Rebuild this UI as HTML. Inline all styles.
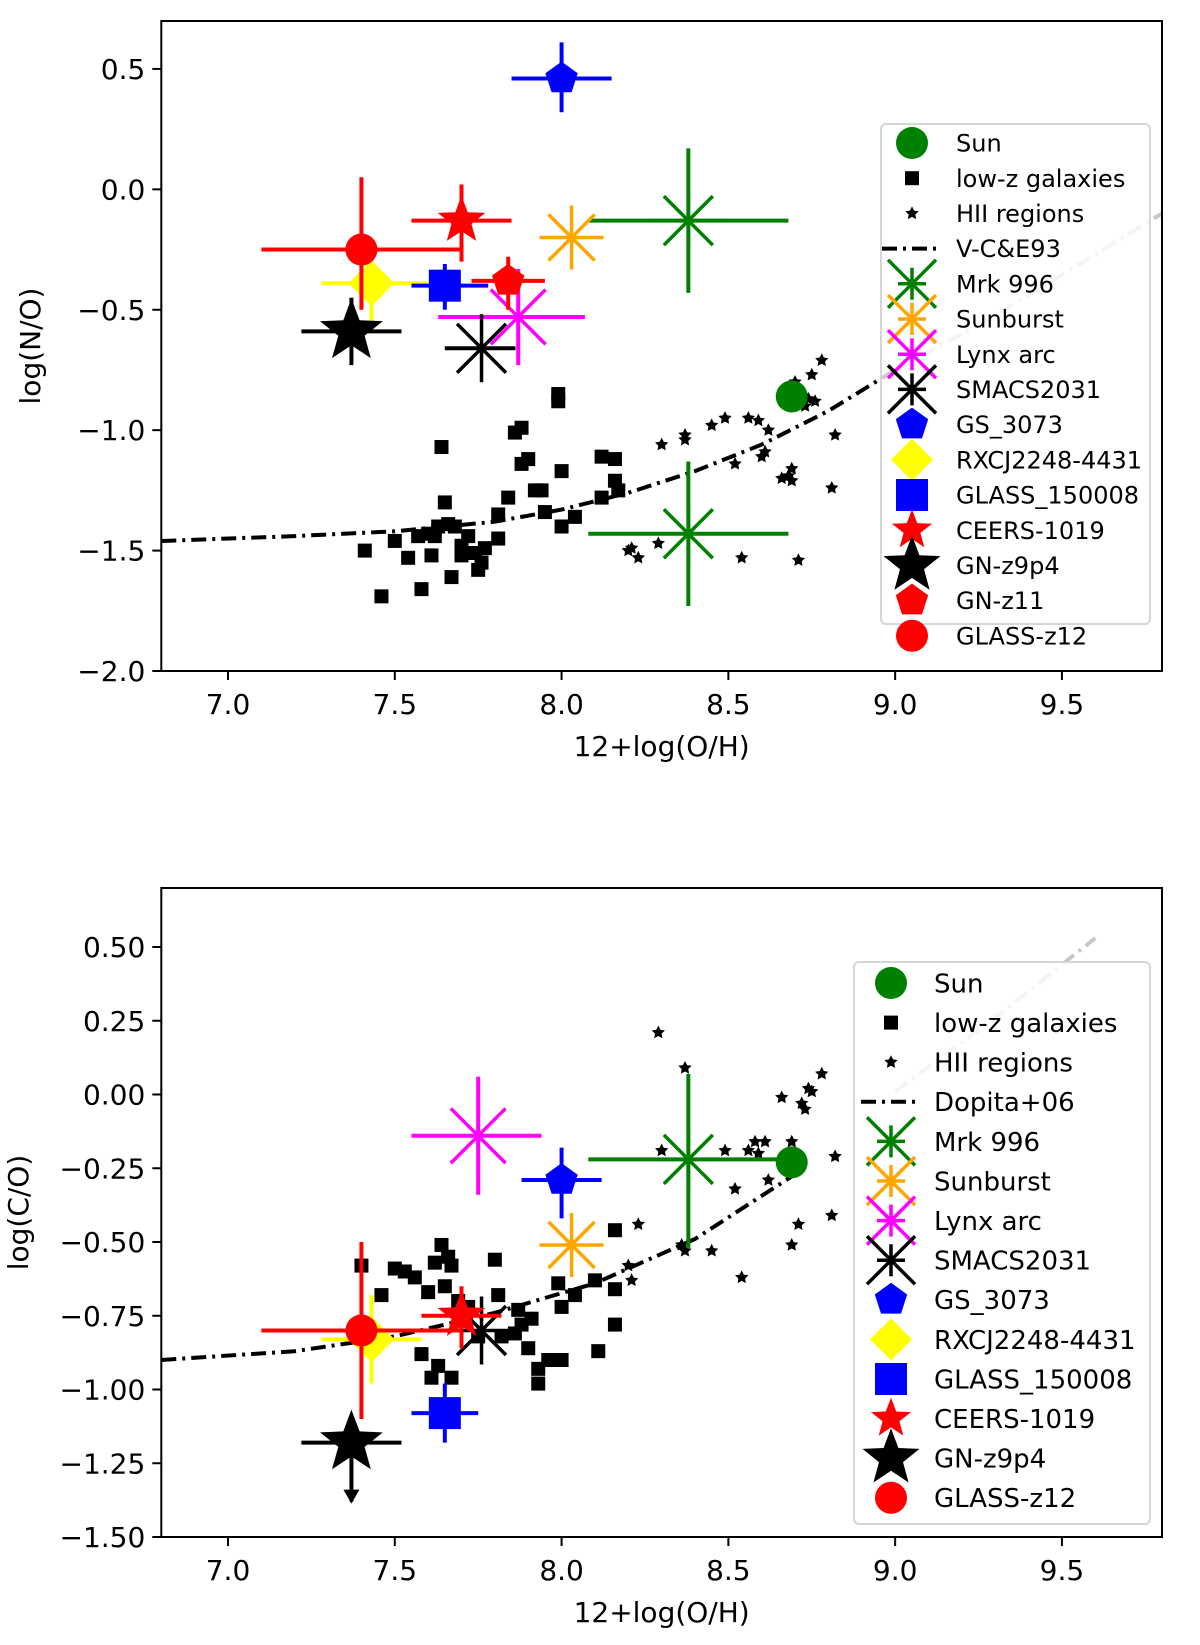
<!DOCTYPE html>
<html><head><meta charset="utf-8"><style>
html,body{margin:0;padding:0;background:#fff;}
svg{display:block;font-family:"DejaVu Sans","Liberation Sans",sans-serif;}
</style></head><body>
<svg id="fig" width="1200" height="1645" viewBox="0 0 1200 1645" xmlns="http://www.w3.org/2000/svg"></svg>
<script>
// ---------- data (top panel: N/O) ----------
const xTicks = [7.0, 7.5, 8.0, 8.5, 9.0, 9.5];
const xTickLabels = ["7.0","7.5","8.0","8.5","9.0","9.5"];
const topYTicks = [0.5, 0.0, -0.5, -1.0, -1.5, -2.0];
const topYTickLabels = ["0.5","0.0","\u22120.5","\u22121.0","\u22121.5","\u22122.0"];
const botYTicks = [0.5, 0.25, 0.0, -0.25, -0.5, -0.75, -1.0, -1.25, -1.5];
const botYTickLabels = ["0.50","0.25","0.00","\u22120.25","\u22120.50","\u22120.75","\u22121.00","\u22121.25","\u22121.50"];

const topLowzX = [7.41,7.46,7.50,7.54,7.58,7.57,7.60,7.61,7.62,7.63,7.64,7.65,7.66,7.67,7.68,7.70,7.70,7.72,7.74,7.75,7.76,7.77,7.81,7.81,7.84,7.86,7.88,7.88,7.90,7.92,7.94,7.95,7.99,7.99,8.00,8.00,8.04,8.12,8.16,8.16,8.17,8.12];
const topLowzY = [-1.50,-1.69,-1.46,-1.53,-1.66,-1.44,-1.43,-1.52,-1.44,-1.40,-1.07,-1.30,-1.39,-1.61,-1.40,-1.48,-1.52,-1.44,-1.51,-1.58,-1.55,-1.49,-1.45,-1.35,-1.28,-1.01,-0.99,-1.14,-1.12,-1.25,-1.25,-1.34,-0.85,-0.88,-1.17,-1.40,-1.36,-1.11,-1.12,-1.21,-1.25,-1.28];
const topHiiX = [8.20,8.21,8.23,8.29,8.30,8.37,8.37,8.45,8.49,8.52,8.56,8.59,8.60,8.61,8.62,8.66,8.68,8.69,8.69,8.71,8.54,8.73,8.74,8.75,8.78,8.81,8.82,8.70,8.76];
const topHiiY = [-1.50,-1.49,-1.53,-1.47,-1.06,-1.02,-1.04,-0.98,-0.95,-1.14,-0.95,-0.96,-1.11,-1.09,-1.00,-1.20,-1.19,-1.16,-1.21,-1.54,-1.53,-0.90,-0.87,-0.77,-0.71,-1.24,-1.02,-0.80,-0.88];
const topModelX = [6.8,7.2,7.5,7.8,8.0,8.2,8.4,8.6,8.8,9.0,9.2,9.4,9.6,9.8];
const topModelY = [-1.46,-1.44,-1.42,-1.38,-1.33,-1.26,-1.17,-1.06,-0.92,-0.75,-0.60,-0.44,-0.27,-0.10];
const topModelSplit = 9.0;

const topObjNames = ["Mrk 996","Mrk 996 b","Sunburst","Lynx arc","SMACS2031","GS_3073","RXCJ2248-4431","GLASS_150008","CEERS-1019","GN-z9p4","GN-z11","GLASS-z12","Sun"];
const topObjX = [8.38,8.38,8.03,7.87,7.76,8.00,7.43,7.65,7.70,7.37,7.84,7.40,8.69];
const topObjY = [-0.13,-1.43,-0.20,-0.53,-0.66,0.46,-0.39,-0.40,-0.13,-0.59,-0.38,-0.25,-0.86];
const topObjXLo = [0.30,0.30,0,0.24,0.11,0.15,0.15,0.10,0.15,0.15,0.11,0.30,0];
const topObjXHi = [0.30,0.30,0,0.20,0.10,0.15,0.17,0.13,0.15,0.15,0.11,0.30,0];
const topObjYLo = [0.30,0.30,0,0.20,0,0.14,0.16,0.10,0.17,0.14,0.12,0.25,0];
const topObjYHi = [0.30,0.30,0,0.20,0,0.15,0.00,0.09,0.15,0.14,0.10,0.30,0];

// ---------- data (bottom panel: C/O) ----------
const botLowzX = [7.40,7.46,7.50,7.53,7.56,7.58,7.60,7.61,7.62,7.63,7.64,7.65,7.66,7.67,7.67,7.69,7.72,7.75,7.80,7.81,7.82,7.86,7.87,7.88,7.90,7.91,7.93,7.93,7.96,7.99,8.00,8.00,8.04,8.10,8.11,8.16,8.16,8.16];
const botLowzY = [-0.58,-0.68,-0.59,-0.60,-0.62,-0.88,-0.67,-0.96,-0.57,-0.92,-0.51,-0.65,-0.55,-0.58,-0.96,-0.70,-0.72,-0.82,-0.56,-0.68,-0.82,-0.81,-0.73,-0.78,-0.86,-0.76,-0.98,-0.93,-0.90,-0.64,-0.72,-0.90,-0.68,-0.63,-0.87,-0.46,-0.66,-0.78];
const botHiiX = [8.29,8.30,8.37,8.36,8.37,8.45,8.49,8.52,8.54,8.56,8.58,8.59,8.61,8.62,8.66,8.69,8.69,8.71,8.72,8.73,8.74,8.75,8.78,8.81,8.82,8.20,8.21,8.23];
const botHiiY = [0.21,-0.19,0.09,-0.51,-0.53,-0.53,-0.19,-0.32,-0.62,-0.19,-0.16,-0.20,-0.16,-0.29,-0.01,-0.16,-0.51,-0.44,-0.03,-0.05,0.02,0.01,0.07,-0.41,-0.21,-0.58,-0.63,-0.44];
const botModelX = [6.8,7.2,7.5,7.8,8.1,8.4,8.7,9.0,9.3,9.6];
const botModelY = [-0.90,-0.87,-0.82,-0.74,-0.64,-0.49,-0.27,0.01,0.26,0.53];
const botModelSplit = 8.8;

const botObjNames = ["Mrk 996","Sunburst","Lynx arc","SMACS2031","GS_3073","RXCJ2248-4431","GLASS_150008","CEERS-1019","GN-z9p4","GLASS-z12","Sun"];
const botObjX = [8.38,8.03,7.75,7.76,8.00,7.43,7.65,7.70,7.37,7.40,8.69];
const botObjY = [-0.22,-0.51,-0.14,-0.80,-0.29,-0.83,-1.08,-0.75,-1.18,-0.80,-0.23];
const botObjXLo = [0.30,0,0.20,0,0.12,0.15,0.10,0.12,0.15,0.30,0];
const botObjXHi = [0.30,0,0.19,0,0.12,0.15,0.10,0.12,0.15,0.30,0];
const botObjYLo = [0.30,0,0.20,0,0.13,0.15,0.10,0.11,0.20,0.30,0];
const botObjYHi = [0.29,0,0.20,0,0.11,0.15,0.10,0.10,0,0.30,0];

const STY = {
  "Mrk 996":{c:"green",m:"ast",s:34},
  "Mrk 996 b":{c:"green",m:"ast",s:34},
  "Sunburst":{c:"#ffa500",m:"ast",s:32},
  "Lynx arc":{c:"#ff00ff",m:"ast",s:38},
  "SMACS2031":{c:"black",m:"ast",s:34},
  "GS_3073":{c:"blue",m:"pent",s:17},
  "RXCJ2248-4431":{c:"yellow",m:"diam",s:23},
  "GLASS_150008":{c:"blue",m:"sq",s:16},
  "CEERS-1019":{c:"red",m:"star",s:25},
  "GN-z9p4":{c:"black",m:"star",s:33},
  "GN-z11":{c:"red",m:"pent",s:17},
  "GLASS-z12":{c:"red",m:"circ",s:16},
  "Sun":{c:"green",m:"circ",s:16}
};

const NS="http://www.w3.org/2000/svg";
const svg=document.getElementById('fig');
function mk(tag,attrs,parent){const e=document.createElementNS(NS,tag);for(const k in attrs)e.setAttribute(k,attrs[k]);(parent||svg).appendChild(e);return e;}

function starPts(cx,cy,R,r,n,rot){let p=[];for(let i=0;i<2*n;i++){const a=rot+i*Math.PI/n;const rr=i%2?r:R;p.push((cx+rr*Math.sin(a)).toFixed(1)+","+(cy-rr*Math.cos(a)).toFixed(1));}return p.join(" ");}
function polyPts(cx,cy,R,n){let p=[];for(let i=0;i<n;i++){const a=i*2*Math.PI/n;p.push((cx+R*Math.sin(a)).toFixed(1)+","+(cy-R*Math.cos(a)).toFixed(1));}return p.join(" ");}

function marker(g,m,cx,cy,s,c){
  let e;
  if(m==="circ"){e=mk('circle',{cx:cx,cy:cy,r:s,fill:c},g);}
  else if(m==="sq"){e=mk('rect',{x:cx-s,y:cy-s,width:2*s,height:2*s,fill:c},g);}
  else if(m==="diam"){e=mk('polygon',{points:polyPts(cx,cy,s,4),fill:c},g);}
  else if(m==="pent"){e=mk('polygon',{points:polyPts(cx,cy,s,5),fill:c},g);}
  else if(m==="star"){e=mk('polygon',{points:starPts(cx,cy,s,s*0.42,5,0),fill:c},g);}
  else if(m==="smallstar"){e=mk('polygon',{points:starPts(cx,cy,s,s*0.5,5,0),fill:c},g);}
  else if(m==="ast"){
    e=mk('g',{},g);
    const d=s*0.72;
    mk('path',{d:`M${cx},${cy-s}V${cy+s}M${cx-s},${cy}H${cx+s}M${cx-d},${cy-d}L${cx+d},${cy+d}M${cx-d},${cy+d}L${cx+d},${cy-d}`,stroke:c,'stroke-width':3.5,fill:'none'},e);
  }
  return e;
}

function panel(p){
  const g=mk('g',{});
  
  
  const X=v=>p.L+(v-6.8)/(9.8-6.8)*(p.R-p.L);
  const Y=v=>p.B-(v-p.ymin)/(p.ymax-p.ymin)*(p.B-p.T);
  const cid='clip'+p.name;
  const defs=mk('defs',{},g);const cp=mk('clipPath',{id:cid},defs);mk('rect',{x:p.L,y:p.T,width:p.R-p.L,height:p.B-p.T},cp);
  const plot=mk('g',{'clip-path':`url(#${cid})`},g);
  
  
  let blk=[],gry=[];
  for(let i=0;i<p.mx.length;i++){const pt=X(p.mx[i]).toFixed(1)+","+Y(p.my[i]).toFixed(1);
    if(p.mx[i]<=p.split)blk.push(pt); if(p.mx[i]>=p.split)gry.push(pt);}
  const lg=mk('polyline',{points:gry.join(" "),fill:'none',stroke:'#c8c8c8','stroke-width':4,'stroke-dasharray':'15,6,3,6'},plot);
  
  
  const lb=mk('polyline',{points:blk.join(" "),fill:'none',stroke:'black','stroke-width':4,'stroke-dasharray':'15,6,3,6'},plot);
  
  
  for(let i=0;i<p.lx.length;i++){const e=marker(plot,'sq',X(p.lx[i]),Y(p.ly[i]),7,'black');
    
    }
  for(let i=0;i<p.hx.length;i++){const e=marker(plot,'smallstar',X(p.hx[i]),Y(p.hy[i]),7,'black');
    
    }
  for(let i=0;i<p.on.length;i++){
    const st=STY[p.on[i]];const cx=X(p.ox[i]),cy=Y(p.oy[i]);
    const og=mk('g',{},plot);
    
    
    if(p.xlo[i]||p.xhi[i]) mk('line',{x1:X(p.ox[i]-p.xlo[i]),x2:X(p.ox[i]+p.xhi[i]),y1:cy,y2:cy,stroke:st.c,'stroke-width':4},og);
    if(p.ylo[i]||p.yhi[i]) mk('line',{x1:cx,x2:cx,y1:Y(p.oy[i]-p.ylo[i]),y2:Y(p.oy[i]+p.yhi[i]),stroke:st.c,'stroke-width':4},og);
    marker(og,st.m,cx,cy,st.s,st.c);
    if(p.on[i]==="GN-z9p4" && p.arrow){
      const y2=Y(p.oy[i]-p.ylo[i]);
      mk('polygon',{points:`${cx-8},${y2-12} ${cx+8},${y2-12} ${cx},${y2+2}`,fill:'black'},og);
    }
  }
  const fr=mk('rect',{x:p.L,y:p.T,width:p.R-p.L,height:p.B-p.T,fill:'none',stroke:'black','stroke-width':2},g);
  
  
  for(let i=0;i<xTicks.length;i++){const x=X(xTicks[i]);
    mk('line',{x1:x,x2:x,y1:p.B,y2:p.B+9,stroke:'black','stroke-width':2},g);
    const t=mk('text',{x:x,y:p.B+43,'text-anchor':'middle','font-size':28},g);t.textContent=xTickLabels[i];
    
    }
  for(let i=0;i<p.yt.length;i++){const y=Y(p.yt[i]);
    mk('line',{x1:p.L-9,x2:p.L,y1:y,y2:y,stroke:'black','stroke-width':2},g);
    const t=mk('text',{x:p.L-16,y:y+10,'text-anchor':'end','font-size':28},g);t.textContent=p.ytl[i];
    
    }
  const xl=mk('text',{x:(p.L+p.R)/2,y:p.B+85,'text-anchor':'middle','font-size':28},g);xl.textContent="12+log(O/H)";
  
  
  const yc=(p.T+p.B)/2;
  const yl=mk('text',{x:p.ylx,y:yc,'text-anchor':'middle','font-size':28,transform:`rotate(-90 ${p.ylx} ${yc})`},g);yl.textContent=p.ylabel;
  
  
  const leg=mk('g',{},g);
  
  
  mk('rect',{x:p.lgx,y:p.lgy,width:p.lgw,height:p.lgh,rx:5,fill:'white','fill-opacity':0.8,stroke:'#d6d6d6','stroke-width':2},leg);
  for(let i=0;i<p.lgItems.length;i++){
    const it=p.lgItems[i];const y=p.lgy0+i*p.lgdy;const mx=p.lgmx;
    const eg=mk('g',{},leg);
    
    
    if(it[1]==="low"){marker(eg,'sq',mx,y,7,'black');}
    else if(it[1]==="hii"){marker(eg,'smallstar',mx,y,7,'black');}
    else if(it[1]==="line"){mk('line',{x1:mx-30,x2:mx+28,y1:y,y2:y,stroke:'black','stroke-width':4,'stroke-dasharray':'15,6,3,6'},eg);}
    else {const st=STY[it[1]];
      if(st.m==="ast"){const d=24;mk('path',{d:`M${mx-d},${y-d}L${mx+d},${y+d}M${mx-d},${y+d}L${mx+d},${y-d}M${mx},${y-16}V${y+16}M${mx-14},${y}H${mx+14}`,stroke:st.c,'stroke-width':3.5,fill:'none'},eg);}
      else marker(eg,st.m,mx,y,Math.min(st.s,it[1]==="GN-z9p4"?30:21),st.c);}
    const t=mk('text',{x:p.lgtx,y:y+p.fs*0.36,'font-size':p.fs},eg);t.textContent=it[0];
  }
}

const topLegend=[["Sun","Sun"],["low-z galaxies","low"],["HII regions","hii"],["V-C&E93","line"],["Mrk 996","Mrk 996"],["Sunburst","Sunburst"],["Lynx arc","Lynx arc"],["SMACS2031","SMACS2031"],["GS_3073","GS_3073"],["RXCJ2248-4431","RXCJ2248-4431"],["GLASS_150008","GLASS_150008"],["CEERS-1019","CEERS-1019"],["GN-z9p4","GN-z9p4"],["GN-z11","GN-z11"],["GLASS-z12","GLASS-z12"]];
const botLegend=[["Sun","Sun"],["low-z galaxies","low"],["HII regions","hii"],["Dopita+06","line"],["Mrk 996","Mrk 996"],["Sunburst","Sunburst"],["Lynx arc","Lynx arc"],["SMACS2031","SMACS2031"],["GS_3073","GS_3073"],["RXCJ2248-4431","RXCJ2248-4431"],["GLASS_150008","GLASS_150008"],["CEERS-1019","CEERS-1019"],["GN-z9p4","GN-z9p4"],["GLASS-z12","GLASS-z12"]];

panel({name:'no-panel',L:161.3,R:1162,T:21,B:671,ymin:-2.0,ymax:0.699,
  yt:topYTicks,ytl:topYTickLabels,ylabel:"log(N/O)",ylx:40,
  lx:topLowzX,ly:topLowzY,hx:topHiiX,hy:topHiiY,mx:topModelX,my:topModelY,split:topModelSplit,
  on:topObjNames,ox:topObjX,oy:topObjY,xlo:topObjXLo,xhi:topObjXHi,ylo:topObjYLo,yhi:topObjYHi,arrow:false,
  lgItems:topLegend,lgx:881,lgy:124,lgw:269,lgh:500,lgy0:143,lgdy:35.2,lgmx:912,lgtx:956,fs:24});
panel({name:'co-panel',L:161.3,R:1162,T:888,B:1537,ymin:-1.5,ymax:0.70,
  yt:botYTicks,ytl:botYTickLabels,ylabel:"log(C/O)",ylx:28,
  lx:botLowzX,ly:botLowzY,hx:botHiiX,hy:botHiiY,mx:botModelX,my:botModelY,split:botModelSplit,
  on:botObjNames,ox:botObjX,oy:botObjY,xlo:botObjXLo,xhi:botObjXHi,ylo:botObjYLo,yhi:botObjYHi,arrow:true,
  lgItems:botLegend,lgx:854,lgy:962,lgw:296,lgh:562,lgy0:983,lgdy:39.6,lgmx:891,lgtx:934,fs:26});
</script>
</body></html>
